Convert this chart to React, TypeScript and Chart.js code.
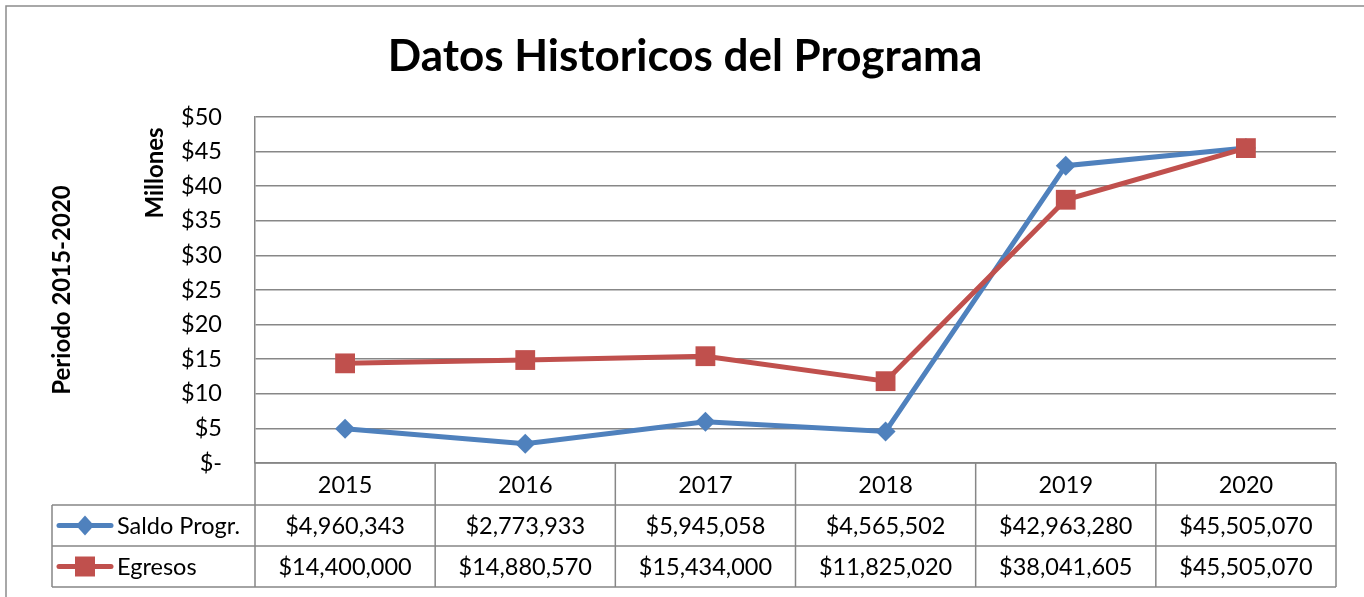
import React, { useEffect, useRef } from 'react';
import { Chart, registerables } from 'chart.js';

Chart.register(...registerables);

const titleText = 'Datos Historicos del Programa';
const yAxisTitle = 'Millones';
const outerTitle = 'Periodo 2015-2020';
const years = ['2015', '2016', '2017', '2018', '2019', '2020'];
const saldoProgr = [4960343, 2773933, 5945058, 4565502, 42963280, 45505070];
const egresos = [14400000, 14880570, 15434000, 11825020, 38041605, 45505070];
const seriesNames = ['Saldo Progr.', 'Egresos'];
const seriesColors = ['#4F81BD', '#C0504D'];
const yMin = 0;
const yMax = 50;
const yStep = 5;

const FONT = 'Lato, "Open Sans", sans-serif';
const GRID = '#878787';
const TXT = 23.5;

const fmtMoney = (v: number) => '$' + v.toLocaleString('en-US');

const framePlugin = {
  id: 'frameAndTable',
  afterDraw(chart: any) {
    const ctx = chart.ctx as CanvasRenderingContext2D;
    const area = chart.chartArea;
    const xs = chart.scales.x;
    ctx.save();
    // outer frame
    ctx.strokeStyle = '#8c8c8c';
    ctx.lineWidth = 1.5;
    ctx.strokeRect(6, 6, 1400, 640);

    // title
    ctx.fillStyle = '#000';
    ctx.textAlign = 'center';
    ctx.textBaseline = 'middle';
    ctx.font = `bold 44px ${FONT}`;
    ctx.fillText(titleText, 685, 57);

    // rotated titles
    ctx.font = `bold 24px ${FONT}`;
    ctx.save();
    ctx.translate(155, 173);
    ctx.rotate(-Math.PI / 2);
    ctx.fillText(yAxisTitle, 0, 0);
    ctx.restore();
    ctx.save();
    ctx.translate(62, 290);
    ctx.rotate(-Math.PI / 2);
    ctx.fillText(outerTitle, 0, 0);
    ctx.restore();

    // data table
    const n = years.length;
    const colW = (area.right - area.left) / n;
    const top = area.bottom;
    const rowH = [42, 41, 41];
    const r1 = top + rowH[0];
    const r2 = r1 + rowH[1];
    const r3 = r2 + rowH[2];
    const tableLeft = 52;

    ctx.strokeStyle = GRID;
    ctx.lineWidth = 1.5;
    ctx.beginPath();
    ctx.moveTo(area.left, top); ctx.lineTo(area.right, top);
    ctx.moveTo(tableLeft, r1); ctx.lineTo(area.right, r1);
    ctx.moveTo(tableLeft, r2); ctx.lineTo(area.right, r2);
    ctx.moveTo(tableLeft, r3); ctx.lineTo(area.right, r3);
    ctx.moveTo(tableLeft, r1); ctx.lineTo(tableLeft, r3);
    for (let i = 0; i <= n; i++) {
      const px = i < n ? xs.getPixelForValue(i) - colW / 2 : xs.getPixelForValue(n - 1) + colW / 2;
      ctx.moveTo(px, top); ctx.lineTo(px, r3);
    }
    ctx.stroke();

    ctx.fillStyle = '#000';
    ctx.font = `${TXT}px ${FONT}`;
    ctx.textAlign = 'center';
    ctx.textBaseline = 'middle';
    const rows = [saldoProgr, egresos];
    for (let i = 0; i < n; i++) {
      const cx = xs.getPixelForValue(i);
      ctx.fillText(years[i], cx, (top + r1) / 2 + 1);
      ctx.fillText(fmtMoney(rows[0][i]), cx, (r1 + r2) / 2 + 1);
      ctx.fillText(fmtMoney(rows[1][i]), cx, (r2 + r3) / 2 + 1);
    }

    // legend keys
    const keyY = [(r1 + r2) / 2, (r2 + r3) / 2];
    for (let s = 0; s < 2; s++) {
      const y = keyY[s];
      ctx.strokeStyle = seriesColors[s];
      ctx.lineWidth = 5;
      ctx.lineCap = 'round';
      ctx.beginPath();
      ctx.moveTo(59, y); ctx.lineTo(111, y);
      ctx.stroke();
      ctx.fillStyle = seriesColors[s];
      ctx.beginPath();
      if (s === 0) {
        ctx.moveTo(85, y - 10); ctx.lineTo(94, y); ctx.lineTo(85, y + 10); ctx.lineTo(76, y);
        ctx.closePath();
      } else {
        ctx.rect(75, y - 10, 20, 20);
      }
      ctx.fill();
      ctx.fillStyle = '#000';
      ctx.textAlign = 'left';
      ctx.font = `${TXT}px ${FONT}`;
      ctx.fillText(seriesNames[s], 117, y + 1);
    }
    ctx.restore();
  },
};

export default function App() {
  const ref = useRef<HTMLCanvasElement>(null);
  useEffect(() => {
    if (!ref.current) return;
    const chart = new Chart(ref.current, {
      type: 'line',
      data: {
        labels: years,
        datasets: [
          {
            label: seriesNames[0],
            data: saldoProgr.map((v) => v / 1e6),
            borderColor: seriesColors[0],
            backgroundColor: seriesColors[0],
            borderWidth: 5,
            pointStyle: 'rectRot',
            pointRadius: 10,
            pointBorderWidth: 0,
            pointHoverRadius: 10,
            tension: 0,
            order: 1,
          },
          {
            label: seriesNames[1],
            data: egresos.map((v) => v / 1e6),
            borderColor: seriesColors[1],
            backgroundColor: seriesColors[1],
            borderWidth: 5,
            pointStyle: 'rect',
            pointRadius: 14,
            pointBorderWidth: 0,
            pointHoverRadius: 14,
            tension: 0,
            order: 0,
          },
        ],
      },
      options: {
        animation: false,
        responsive: false,
        devicePixelRatio: 1,
        clip: false as any,
        layout: { padding: { left: 0, top: 117, right: 28, bottom: 134 } },
        plugins: { legend: { display: false }, title: { display: false }, tooltip: { enabled: false } },
        scales: {
          x: { type: 'category', display: false, offset: true, grid: { display: false } },
          y: {
            min: yMin,
            max: yMax,
            afterFit: (s: any) => { s.width = 255; },
            border: { display: true, color: GRID, width: 1.5 },
            grid: { color: GRID, lineWidth: 1.5, drawTicks: false },
            ticks: {
              stepSize: yStep,
              padding: 33,
              color: '#000',
              font: { family: FONT, size: TXT },
              callback: (v: any) => (Number(v) === 0 ? '$-' : '$' + v),
            },
          },
        },
      },
      plugins: [framePlugin],
    });
    return () => chart.destroy();
  }, []);
  return (
    <div style={{ position: 'absolute', left: 0, top: 0, width: 1364, height: 597, background: '#fff' }}>
      <canvas ref={ref} width={1364} height={597} />
    </div>
  );
}
